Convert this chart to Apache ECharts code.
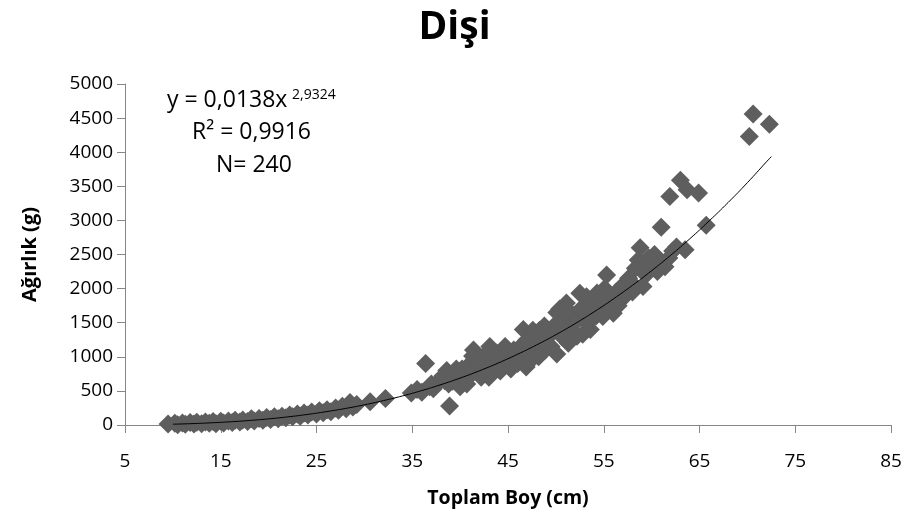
<!DOCTYPE html>
<html>
<head>
<meta charset="utf-8">
<script src="https://cdn.jsdelivr.net/npm/echarts@6/dist/echarts.min.js"></script>
<style>html,body{margin:0;padding:0;background:#fff}#c{width:909px;height:520px}</style>
</head>
<body>
<div id="c"></div>
<script>
// Scatter data: total length (cm) and weight (g)
var lengthCm = [
  9.5,10.2,10.5,11,11.3,11.8,12.2,12.5,13,13.4,13.8,14.2,14.5,15,15.3,15.8,16.2,16.5,17,17.3,17.8,18.2,18.5,19,19.4,19.8,20.2,20.6,21,21.4,21.8,22.2,22.5,23,23.3,23.7,24.1,24.5,25,25.3,25.7,26.1,26.5,27,27.3,27.7,28.1,28.5,28.8,29.2,
  30.6,32.2,34.9,
  35.5,36,36.4,36.8,37.2,37.6,37.9,38.2,38.6,38.8,38.9,39.2,39.5,39.8,40,40.2,40.5,40.7,41,41.3,41.4,41.7,42,42.2,42.4,42.6,42.9,43.1,43.3,43.5,43.8,44,44.2,44.4,44.6,44.9,45.1,45.3,45.6,45.8,
  39,40.9,41.9,43,44.7,45.5,37,38.4,39.6,42.8,
  46,46.3,46.6,46.9,47.2,47.6,47.9,48.2,48.3,48.6,48.9,49.2,49.5,49.8,50.1,50.1,50.4,50.6,50.9,51.1,51.3,51.6,51.9,52.2,52.5,52.8,53,53.2,53.5,53.6,53.9,54.2,54.3,54.6,54.9,55.1,55.3,55.6,55.9,
  46.5,47,47.4,48,48.8,49,49.6,50.3,51,51.5,52,52.6,53.3,54,54.5,55.4,
  56,56.3,56.7,57,57.3,57.6,58,58.3,58.6,58.8,59.1,59.4,59.7,60,60.3,60.6,61,61.4,61.8,61.9,62.2,62.6,63,63.5,63.7,64.9,65.7,
  56.5,57.8,59,60.8,
  70.2,70.6,72.3
];
var weightG = [
  15,25,5,30,10,35,15,40,20,45,25,50,20,55,30,60,35,70,45,75,50,90,60,95,70,110,80,120,90,130,105,145,120,160,130,175,145,190,160,210,180,225,195,250,215,275,240,330,265,300,
  340,390,470,
  520,480,900,560,530,620,660,720,800,600,280,640,700,760,560,820,650,600,720,1010,1100,780,850,700,1000,760,900,1150,800,960,1055,850,790,1000,900,1050,950,820,1100,1000,
  680,880,900,700,1150,900,600,650,820,820,
  900,1150,1400,850,1100,1390,1200,1000,1390,1250,1100,1300,1150,1450,1040,1650,1700,1300,1500,1790,1200,1400,1600,1300,1930,1330,1550,1880,1700,1400,1800,1600,1935,1750,1590,2000,2200,1800,1700,
  1000,1250,950,1300,1450,1200,1350,1450,1350,1650,1500,1700,1500,1650,1850,1950,
  1640,1950,1830,2050,1900,2150,1950,2300,2420,2600,2030,2200,2450,2350,2500,2250,2900,2320,2450,3350,2550,2610,3590,2570,3450,3400,2930,
  1750,2100,2350,2400,
  4230,4560,4410
];
// Power trendline points
var trendX = [10,12,14,16,18,20,22,24,26,28,30,32,34,36,38,40,42,44,46,48,50,52,54,56,58,60,62,64,66,68,70,72,72.5];
var trendY = [12,20,32,47,66,90,119,154,195,242,296,358,427,505,592,688,794,910,1037,1175,1324,1486,1660,1848,2048,2262,2490,2732,2991,3264,3553,3860,3935];

var titleText = 'Dişi';
var xTitle = 'Toplam Boy (cm)';
var yTitle = 'Ağırlık (g)';
var eqMain = 'y = 0,0138x';
var eqSup = '2,9324';
var r2Text = 'R² = 0,9916';
var nText = 'N= 240';

var pts = lengthCm.map(function(x, i){ return [x, weightG[i]]; });
var trend = trendX.map(function(x, i){ return [x, trendY[i]]; });

var FONT = '"Open Sans", sans-serif';
var chart = echarts.init(document.getElementById('c'), null, {renderer: 'canvas'});
chart.setOption({
  animation: false,
  backgroundColor: '#fff',
  title: {
    text: titleText, left: 'center', top: 3,
    textStyle: {fontFamily: FONT, fontWeight: 'bold', fontSize: 39, color: '#000'}
  },
  grid: {left: 125, right: 18, top: 84, bottom: 95, containLabel: false},
  xAxis: {
    type: 'value', min: 5, max: 85, interval: 10,
    name: xTitle, nameLocation: 'middle', nameGap: 63,
    nameTextStyle: {fontFamily: FONT, fontWeight: 'bold', fontSize: 19.5, color: '#000'},
    axisLine: {show: true, lineStyle: {color: '#868686', width: 1}},
    axisTick: {show: true, length: 8, lineStyle: {color: '#868686'}},
    axisLabel: {fontFamily: FONT, fontSize: 19, color: '#000', margin: 27},
    splitLine: {show: false}
  },
  yAxis: {
    type: 'value', min: 0, max: 5000, interval: 500,
    name: yTitle, nameLocation: 'middle', nameGap: 85, nameRotate: 90,
    nameTextStyle: {fontFamily: FONT, fontWeight: 'bold', fontSize: 20, color: '#000'},
    axisLine: {show: true, lineStyle: {color: '#868686', width: 1}},
    axisTick: {show: true, length: 8, lineStyle: {color: '#868686'}},
    axisLabel: {fontFamily: FONT, fontSize: 19, color: '#000', margin: 12,
      formatter: function(v){ return String(v); }},
    splitLine: {show: false}
  },
  series: [
    {
      type: 'scatter', data: pts, symbol: 'diamond', symbolSize: 19,
      itemStyle: {color: '#5e5e5e', opacity: 1}, z: 2
    },
    {
      type: 'line', data: trend, smooth: true, showSymbol: false, symbol: 'none',
      lineStyle: {color: '#000', width: 1}, z: 3
    }
  ],
  graphic: [
    {type: 'text', left: 167, top: 89, style: {text: eqMain, fontFamily: FONT, fontSize: 23, fill: '#000'}},
    {type: 'text', left: 292, top: 88, style: {text: eqSup, fontFamily: FONT, fontSize: 14, fill: '#000'}},
    {type: 'text', left: 192, top: 121, style: {text: r2Text, fontFamily: FONT, fontSize: 23, fill: '#000'}},
    {type: 'text', left: 216, top: 154, style: {text: nText, fontFamily: FONT, fontSize: 23, fill: '#000'}}
  ]
});
</script>
</body>
</html>
